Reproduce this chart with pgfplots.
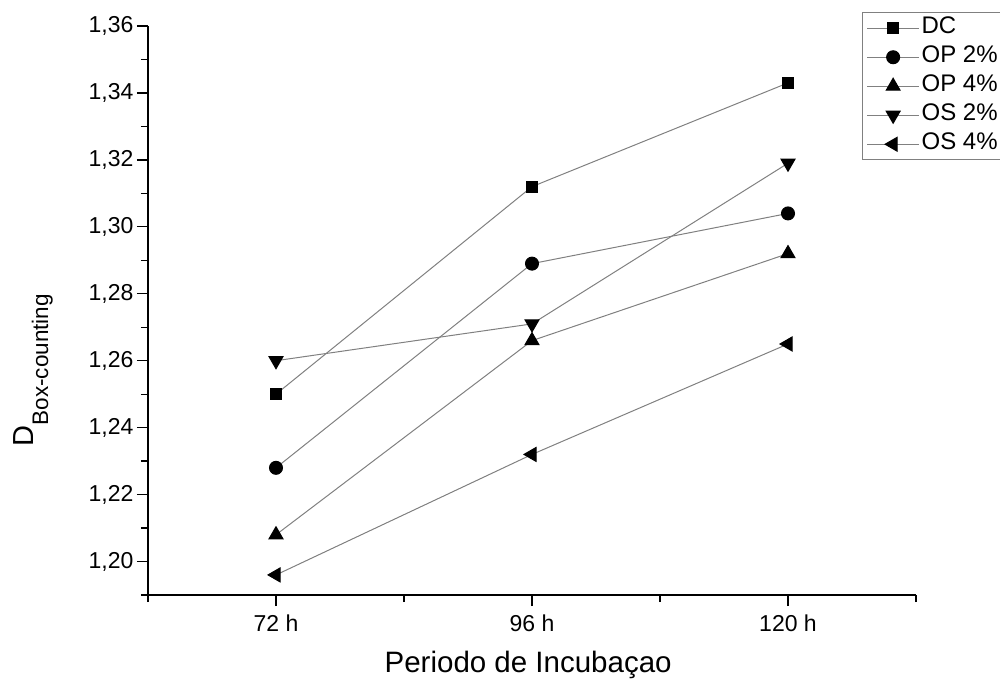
\documentclass[border=0pt]{standalone}
\usepackage{fontspec}
\setmainfont{Liberation Sans}
\usepackage{pgfplots}
\pgfplotsset{compat=1.18}
\begin{document}
\begin{tikzpicture}
\begin{axis}[
  name=ax,
  scale only axis,
  width=768pt, height=569pt,
  xmin=60, xmax=132,
  ymin=1.19, ymax=1.36,
  axis x line=bottom, axis y line=left,
  axis line style={-, line width=1.5pt, black},
  tick align=outside,
  xtick={72,96,120},
  xticklabels={72 h,96 h,120 h},
  minor xtick={60,84,108,132},
  ytick={1.20,1.22,...,1.37},
  minor ytick={1.19,1.21,...,1.355},
  major tick length=11pt,
  minor tick length=7pt,
  every tick/.style={black, line width=1.3pt},
  /pgf/number format/assume math mode=true,
  yticklabel style={/pgf/number format/.cd, fixed, fixed zerofill, precision=2, use comma},
  xticklabel style={yshift=-5pt},
  tick label style={font=\fontsize{23}{27}\selectfont},
  xlabel={Periodo de Incubaçao},
  xlabel style={at={(axis description cs:0.495,-0.123)}, anchor=center, font=\fontsize{29.5}{34}\selectfont},
  ylabel={D\raisebox{-15pt}{\fontsize{22.5}{26}\selectfont Box-counting}},
  ylabel style={at={(axis description cs:-0.1497,0.395)}, anchor=base, font=\fontsize{29}{34}\selectfont},
  legend style={at={(axis description cs:0.930,1.024)}, anchor=north west,
    draw=gray, line width=0.8pt, fill=white,
    font=\fontsize{24}{28}\selectfont,
    nodes={inner ysep=3pt, text height=17pt, text depth=6pt},
    row sep=0pt, inner xsep=4pt, inner ysep=1pt},
  legend cell align=left,
  legend image code/.code={\draw[mark repeat=2,mark phase=2] plot coordinates {(0pt,0pt) (26pt,0pt) (52pt,0pt)};},
  every axis plot/.append style={color=gray, line width=1pt},
]
\addplot[color=gray, mark=square*, mark size=5.5pt, mark options={fill=black, draw=black, solid}] coordinates {(72,1.250) (96,1.312) (120,1.343)};
\addlegendentry{DC}
\addplot[color=gray, mark=*, mark size=6.5pt, mark options={fill=black, draw=black, solid}] coordinates {(72,1.228) (96,1.289) (120,1.304)};
\addlegendentry{OP 2\%}
\addplot[color=gray, mark=triangle*, mark size=8pt, mark options={fill=black, draw=black, solid}] coordinates {(72,1.208) (96,1.266) (120,1.292)};
\addlegendentry{OP 4\%}
\addplot[color=gray, mark=triangle*, mark size=8pt, mark options={rotate=180, fill=black, draw=black, solid}] coordinates {(72,1.260) (96,1.271) (120,1.319)};
\addlegendentry{OS 2\%}
\addplot[color=gray, mark=triangle*, mark size=8pt, mark options={rotate=90, fill=black, draw=black, solid}] coordinates {(72,1.196) (96,1.232) (120,1.265)};
\addlegendentry{OS 4\%}
\end{axis}
\pgfresetboundingbox
\useasboundingbox ([xshift=-148pt,yshift=-85pt]ax.south west) rectangle ([xshift=84pt,yshift=26pt]ax.north east);
\end{tikzpicture}
\end{document}
